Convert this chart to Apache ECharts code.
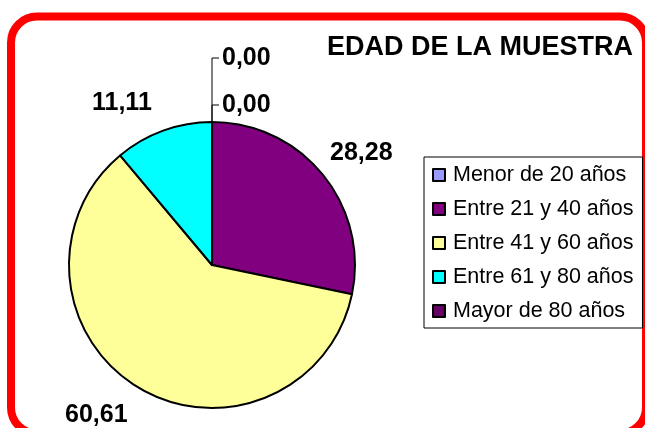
<!DOCTYPE html>
<html>
<head>
<meta charset="utf-8">
<script src="https://cdn.jsdelivr.net/npm/echarts@6/dist/echarts.min.js"></script>
<style>
  html, body { margin: 0; padding: 0; background: #fff; }
  #chart { width: 645px; height: 428px; }
</style>
</head>
<body>
<div id="chart"></div>
<script>
const categories = ['Menor de 20 años', 'Entre 21 y 40 años', 'Entre 41 y 60 años', 'Entre 61 y 80 años', 'Mayor de 80 años'];
const percentages = [0.00, 28.28, 60.61, 11.11, 0.00];
const sliceColors = ['#9999FF', '#800080', '#FFFF99', '#00FFFF', '#660066'];

const FONT = '"Liberation Sans", Arial, sans-serif';
const cx = 212, cy = 265, r = 143;

// where each value label sits, relative to the pie centre
const labelSpots = [
  { dx: 10, dy: -207 },
  { dx: 118, dy: -112 },
  { dx: -147, dy: 150 },
  { dx: -120, dy: -162 },
  { dx: 10, dy: -160 }
];

const chart = echarts.init(document.getElementById('chart'));

chart.setOption({
  animation: false,
  title: {
    text: 'EDAD DE LA MUESTRA',
    right: 12,
    top: 34,
    padding: 0,
    textStyle: { fontFamily: FONT, fontSize: 27, fontWeight: 'bold', color: '#000' }
  },
  legend: {
    orient: 'vertical',
    left: 424,
    top: 157,
    data: categories.map((name) => ({
      name: name,
      itemStyle: { borderColor: '#000', borderWidth: 2 }
    })),
    icon: 'rect',
    itemWidth: 12,
    itemHeight: 12,
    itemGap: 10,
    padding: [6, 9, 5, 8],
    borderColor: '#000',
    borderWidth: 1,
    textStyle: { fontFamily: FONT, fontSize: 21.5, color: '#000', lineHeight: 24, padding: [0, 0, 0, 3] }
  },
  graphic: [{
    type: 'rect',
    shape: { x: 11, y: 16.5, width: 635, height: 417, r: 26 },
    style: { fill: 'none', stroke: '#FF0000', lineWidth: 8 },
    silent: true
  }],
  series: [{
    type: 'pie',
    center: [cx, cy],
    radius: r,
    startAngle: 90,
    clockwise: true,
    avoidLabelOverlap: false,
    itemStyle: { borderColor: '#000', borderWidth: 2 },
    label: {
      show: true,
      position: 'outside',
      fontFamily: FONT,
      fontSize: 25,
      fontWeight: 'bold',
      color: '#000',
      formatter: (p) => p.value.toFixed(2).replace('.', ',')
    },
    labelLine: { show: false, lineStyle: { color: '#000', width: 1 } },
    labelLayout: (params) => {
      const s = labelSpots[params.dataIndex];
      const out = {
        x: cx + s.dx,
        y: cy + s.dy,
        align: 'left',
        verticalAlign: 'middle'
      };
      if (percentages[params.dataIndex] === 0) {
        out.labelLinePoints = [[cx, cy - r], [cx, cy + s.dy], [cx + 7, cy + s.dy]];
      }
      return out;
    },
    emphasis: { disabled: true },
    data: categories.map((name, i) => ({
      name: name,
      value: percentages[i],
      itemStyle: { color: sliceColors[i] },
      labelLine: { show: percentages[i] === 0 }
    }))
  }]
});
</script>
</body>
</html>
